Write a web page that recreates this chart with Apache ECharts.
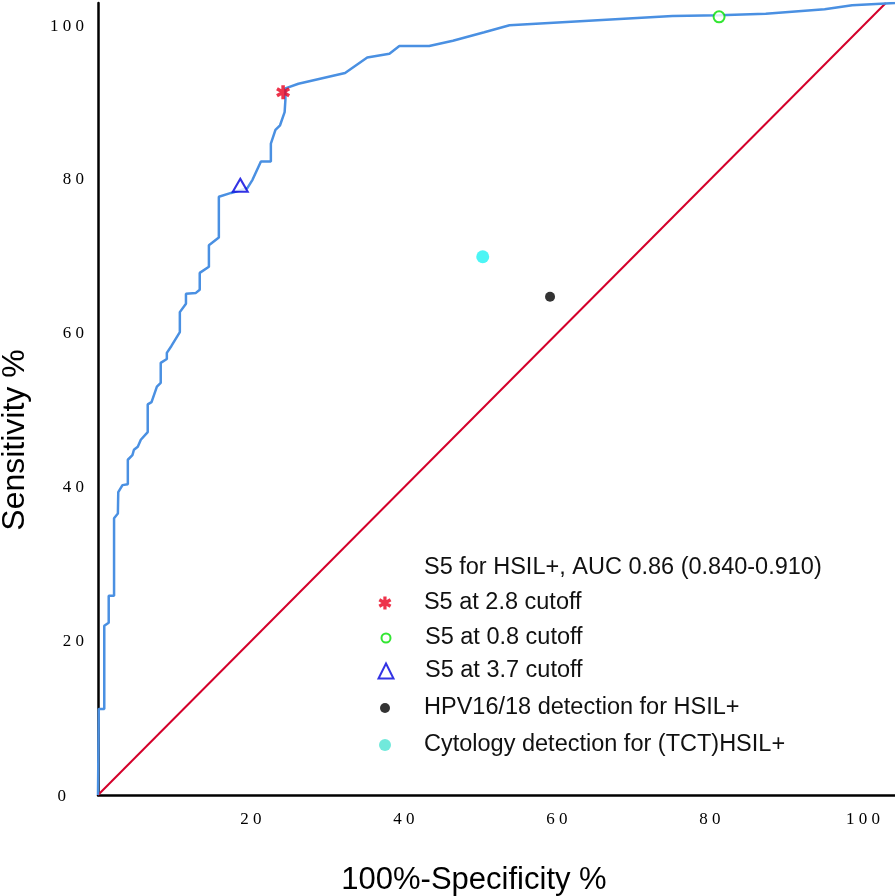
<!DOCTYPE html>
<html>
<head>
<meta charset="utf-8">
<script src="https://cdn.jsdelivr.net/npm/echarts@6/dist/echarts.min.js"></script>
<style>html,body{margin:0;padding:0;background:#fff;}#c{width:895px;height:896px;}</style>
</head>
<body>
<div id="c"></div>
<script>
// ROC curve: 100%-Specificity (x) and Sensitivity (y), in %
const rocX = [0, 0.1, 0.82, 0.82, 1.4, 1.4, 2.1, 2.1, 2.6, 2.65, 3.2, 3.9, 3.9, 4.5, 4.7, 5.2, 5.6, 6.5, 6.5, 7.0, 7.7, 8.2, 8.2, 9.0, 9.0, 9.6, 10.7, 10.7, 11.5, 11.5, 12.8, 13.3, 13.3, 14.5, 14.5, 15.8, 15.8, 17.4, 19.5, 20.2, 21.3, 22.6, 22.6, 23.2, 23.8, 24.4, 24.5, 24.5, 26.2, 32.3, 35.2, 38.1, 39.4, 43.3, 46.4, 50.5, 53.8, 75.1, 81.2, 87.3, 95.0, 98.6, 104.2];
const rocY = [0, 11.2, 11.2, 22.0, 22.4, 25.9, 25.9, 36.0, 36.6, 39.4, 40.3, 40.4, 43.6, 44.2, 44.9, 45.3, 46.2, 47.2, 50.8, 51.1, 53.1, 53.6, 56.2, 56.7, 57.5, 58.4, 60.2, 62.8, 63.9, 65.2, 65.3, 65.7, 67.9, 68.7, 71.5, 72.5, 77.8, 78.3, 78.9, 80.0, 82.4, 82.4, 84.7, 86.5, 87.1, 88.8, 90.4, 91.9, 92.5, 93.9, 95.9, 96.4, 97.4, 97.4, 98.1, 99.2, 100.1, 101.3, 101.4, 101.6, 102.2, 102.7, 103.0];
const diagX = [0, 103];
const diagY = [0, 103];
// marked points [x, y]
const cut28 = [24.2, 91.4];
const cut08 = [81.2, 101.2];
const cut37 = [18.6, 79.3];
const hpv = [59.1, 64.8];
const tct = [50.3, 70.0];
const tickLabels = [0, 20, 40, 60, 80, 100];
const names = [
  'S5 for HSIL+, AUC 0.86 (0.840-0.910)',
  'S5 at 2.8 cutoff',
  'S5 at 0.8 cutoff',
  'S5 at 3.7 cutoff',
  'HPV16/18 detection for HSIL+',
  'Cytology detection for (TCT)HSIL+'
];

const starPath = 'path://M-1.5,-6 L1.5,-6 L1.5,6 L-1.5,6 Z M-5.946,-1.701 L-4.446,-4.299 L5.946,1.701 L4.446,4.299 Z M-4.446,4.299 L-5.946,1.701 L4.446,-4.299 L5.946,-1.701 Z';

const spaced = v => String(v).split('').join(' ');
const chart = echarts.init(document.getElementById('c'));

const ICON_X = 385, TEXT_X = 424, FS = 23.5, HALF = 11;
function leg(i, centerY, h, extra) {
  return Object.assign({
    show: true, orient: 'vertical', left: ICON_X - h / 2, top: centerY - HALF,
    padding: 0, itemWidth: h, itemHeight: h, itemGap: 0,
    selectedMode: false,
    textStyle: { fontFamily: 'Liberation Sans', fontSize: FS, color: '#111',
                 padding: [0, 0, 0, TEXT_X - (ICON_X + h / 2 + 5)] },
    data: [names[i]]
  }, extra || {});
}

chart.setOption({
  animation: false,
  backgroundColor: '#fff',
  grid: { left: 98, right: 0, top: 3, bottom: 101, containLabel: false },
  xAxis: {
    type: 'value', min: 0, max: 104.2, interval: 20,
    axisLine: { show: true, onZero: false, lineStyle: { color: '#000', width: 2.5 } },
    axisTick: { show: false },
    splitLine: { show: false },
    axisLabel: {
      showMinLabel: false, showMaxLabel: false, margin: 16,
      fontFamily: 'Liberation Serif', fontSize: 17, color: '#000',
      formatter: v => tickLabels.indexOf(v) >= 0 ? spaced(v) : ''
    }
  },
  yAxis: {
    type: 'value', min: 0, max: 103, interval: 20,
    axisLine: { show: true, onZero: false, lineStyle: { color: '#000', width: 2.5 } },
    axisTick: { show: false },
    splitLine: { show: false },
    axisLabel: {
      showMaxLabel: false, margin: 14,
      fontFamily: 'Liberation Serif', fontSize: 17, color: '#000',
      formatter: v => v === 0 ? '{z|0}' : (tickLabels.indexOf(v) >= 0 ? spaced(v) : ''),
      rich: { z: { fontFamily: 'Liberation Serif', fontSize: 17, color: '#000', padding: [4, 18, 0, 0] } }
    }
  },
  legend: [
    { show: true, orient: 'vertical', left: TEXT_X - 68 - 5, top: 567 - HALF, padding: 0,
      itemWidth: 68, itemHeight: 14, selectedMode: false,
      textStyle: { fontFamily: 'Liberation Sans', fontSize: FS, color: '#111' },
      data: [{ name: names[0], icon: 'none' }] },
    leg(1, 602, 13),
    leg(2, 637, 9),
    leg(3, 670, 15),
    leg(4, 707, 10),
    leg(5, 744, 12, { data: [{ name: names[5], itemStyle: { color: '#4de3d2' } }] })
  ],
  graphic: [
    { type: 'text', style: { text: '100%-Specificity %', font: '31px "Liberation Sans"', fill: '#000', textAlign: 'center', textVerticalAlign: 'middle' }, x: 474, y: 880 },
    { type: 'text', style: { text: 'Sensitivity %', font: '32px "Liberation Sans"', fill: '#000', textAlign: 'center', textVerticalAlign: 'middle' }, x: 15, y: 440, rotation: Math.PI / 2 }
  ],
  series: [
    {
      type: 'line', name: 'diag', data: diagX.map((x, i) => [x, diagY[i]]),
      showSymbol: false, lineStyle: { color: '#d4002a', width: 2 }, z: 1, silent: true
    },
    {
      type: 'line', name: names[0], data: rocX.map((x, i) => [x, rocY[i]]),
      showSymbol: false, lineStyle: { color: '#4a90e2', width: 2.5 }, itemStyle: { color: '#4a90e2' }, z: 2
    },
    { type: 'scatter', name: names[1], data: [cut28], symbol: starPath, symbolSize: 14, itemStyle: { color: '#e8001e' }, z: 5 },
    { type: 'scatter', name: names[2], data: [cut08], symbol: 'emptyCircle', symbolSize: 11, itemStyle: { color: '#00e000', borderWidth: 2.5 }, z: 5 },
    { type: 'scatter', name: names[3], data: [cut37], symbol: 'emptyTriangle', symbolSize: [15, 13], itemStyle: { color: '#0000dd', borderWidth: 1.8 }, z: 5 },
    { type: 'scatter', name: names[4], data: [hpv], symbol: 'circle', symbolSize: 10, itemStyle: { color: '#000' }, z: 5 },
    { type: 'scatter', name: names[5], data: [tct], symbol: 'circle', symbolSize: 13, itemStyle: { color: '#1ff2f2' }, z: 5 }
  ]
});
</script>
</body>
</html>
